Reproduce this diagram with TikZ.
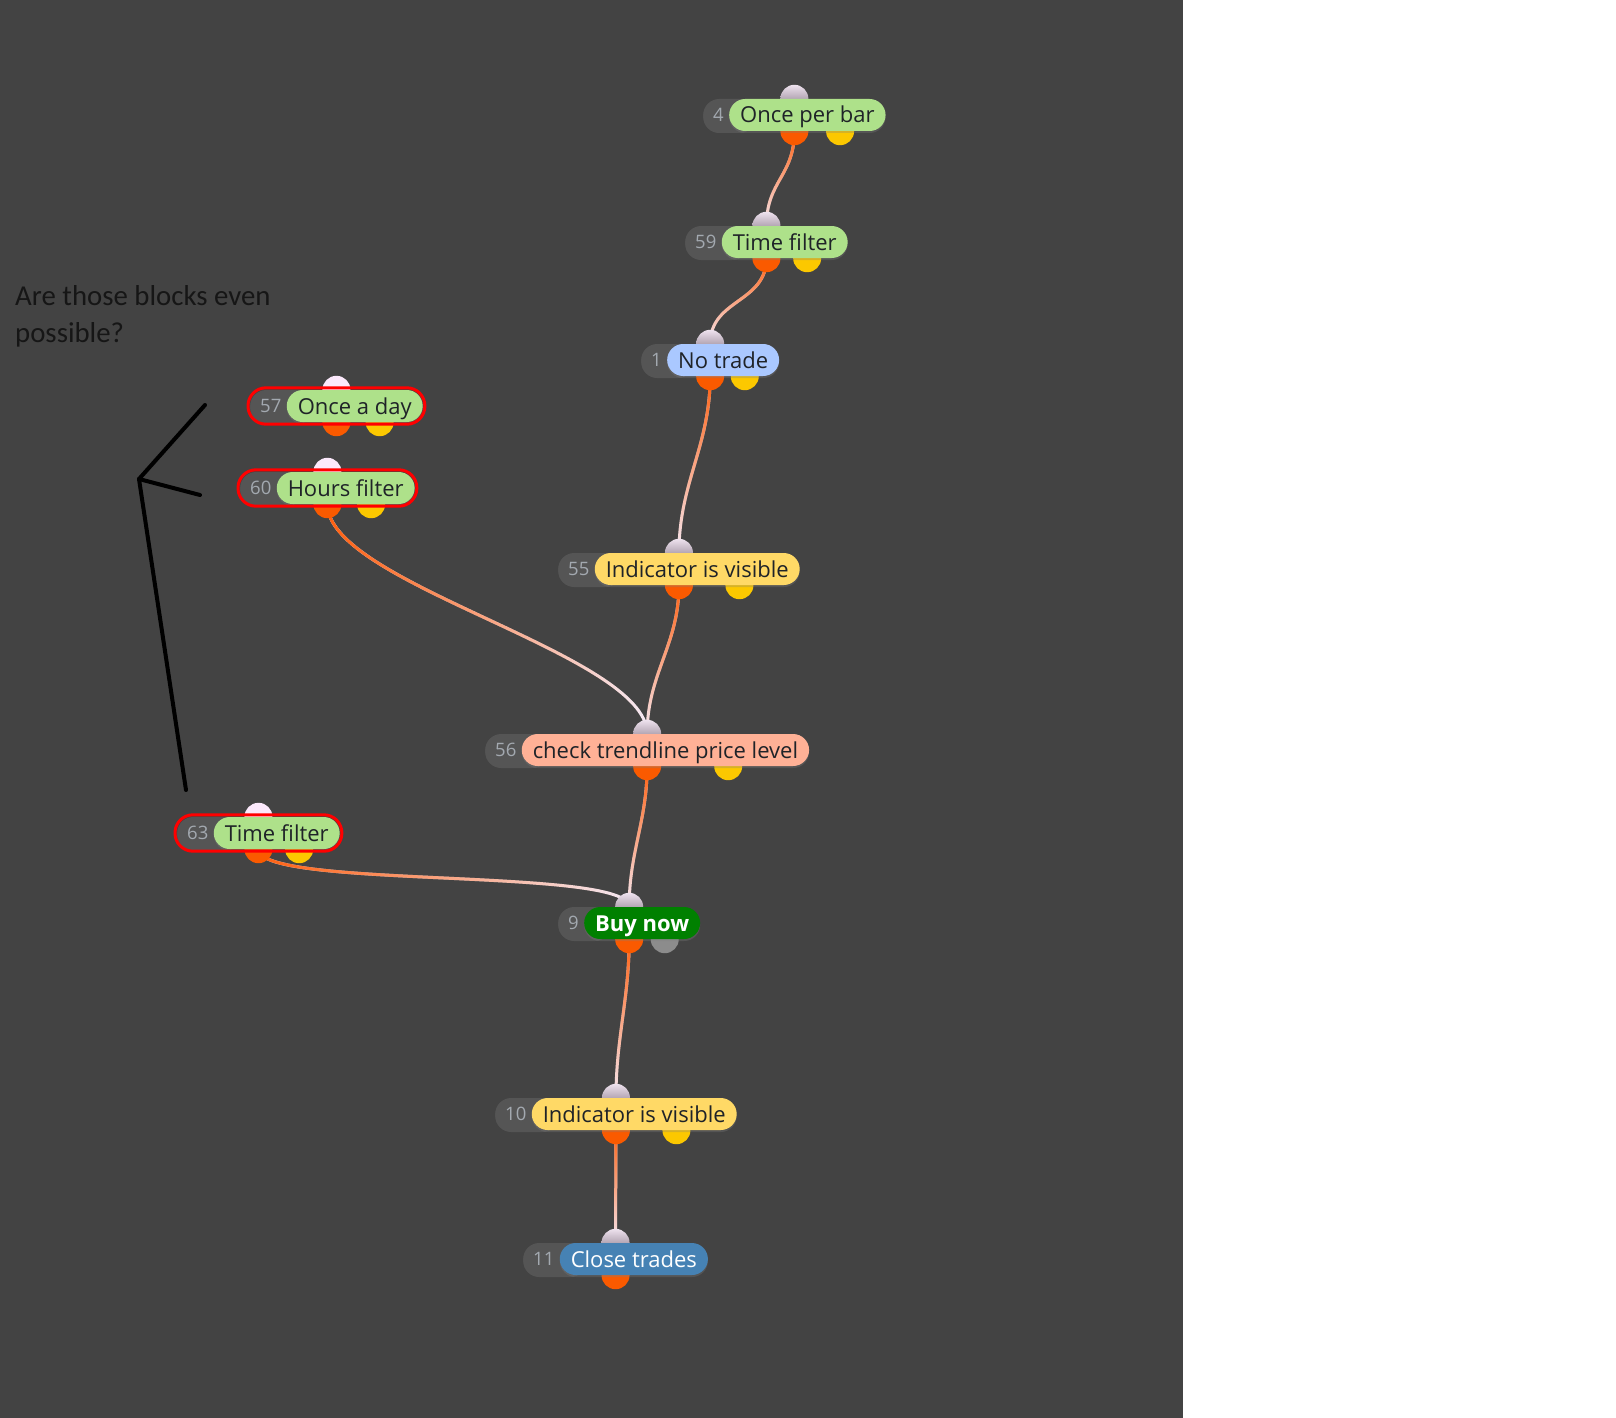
\documentclass[tikz,border=0pt]{standalone}
\usepackage{fontspec}
\setmainfont{Open Sans}
\newfontfamily\notefont{Carlito}
\usetikzlibrary{positioning, calc, fit, shadows, fadings}

\definecolor{canvas}{HTML}{434343}
\definecolor{idgrey}{HTML}{555555}
\definecolor{idtext}{HTML}{A3A9B0}
\definecolor{pilltext}{HTML}{1F2328}
\definecolor{pillgreen}{HTML}{AEE18A}
\definecolor{pillblue}{HTML}{AAC8FF}
\definecolor{pillyellow}{HTML}{FFD966}
\definecolor{pillsalmon}{HTML}{FFB196}
\definecolor{buygreen}{HTML}{008000}
\definecolor{closeblue}{HTML}{4682B4}
\definecolor{ringred}{HTML}{FF0000}
\definecolor{knoborange}{HTML}{FA5A00}
\definecolor{knobyellow}{HTML}{FCC800}
\definecolor{knobgrey}{HTML}{8C8C8C}
\definecolor{knobpink}{HTML}{FCE9FC}
\definecolor{lilactop}{HTML}{EEE2EE}
\definecolor{lilacbot}{HTML}{7A6A7A}
\definecolor{wirepale}{HTML}{F5EAF5}
\definecolor{wireorange}{HTML}{FF6010}
\definecolor{notetext}{HTML}{161616}

\tikzfading[name=wirefade south, top color=transparent!0, middle color=transparent!25,
  bottom color=transparent!100]
\tikzfading[name=wirefade east, left color=transparent!0, middle color=transparent!25,
  right color=transparent!100]

\pgfdeclarelayer{bg}
\pgfdeclarelayer{wires}
\pgfdeclarelayer{knobs}
\pgfsetlayers{bg,wires,knobs,main}

\tikzset{
  pill/.style={rounded corners=16pt, minimum height=32pt, inner xsep=11pt, inner ysep=0pt,
    text height=16pt, text depth=0pt, text=pilltext, font=\fontsize{22}{26}\selectfont,
    drop shadow={shadow xshift=0pt, shadow yshift=-2pt, opacity=.3}},
  idpill/.style={fill=idgrey, rounded corners=16pt, minimum height=32pt, inner xsep=10pt,
    inner ysep=0pt, text height=13pt, text depth=0pt, text=idtext, anchor=west,
    font=\fontsize{18.5}{22}\selectfont,
    drop shadow={shadow xshift=0pt, shadow yshift=-2pt, opacity=.3}},
  knob/.style={circle, minimum size=28pt, inner sep=0pt},
  knobin/.style={knob, top color=lilactop, bottom color=lilacbot},
  knobpk/.style={knob, fill=knobpink},
  knobout/.style={knob, fill=knoborange},
  knobyel/.style={knob, fill=knobyellow},
  knobgry/.style={knob, fill=knobgrey},
  knobnone/.style={knob},
  ring/.style={draw=ringred, line width=3pt, rounded corners=18pt, inner sep=2pt},
  wire/.style={draw=wirepale, line width=3pt,
    postaction={draw=wireorange, line width=3pt, path fading=wirefade south}},
  wireside/.style={draw=wirepale, line width=3pt,
    postaction={draw=wireorange, line width=3pt, path fading=wirefade east}},
  pen/.style={draw=black, line width=4pt, line cap=round, line join=round},
}

\begin{document}
\begin{tikzpicture}[x=1pt, y=-1pt]

\useasboundingbox (0,0) rectangle (1616,1418);
\begin{pgfonlayer}{bg}
  \fill[white] (0,0) rectangle (1616,1418);
  \fill[canvas] (0,0) rectangle (1183,1418);
\end{pgfonlayer}

% question and hand drawn arrow
\node[anchor=base west, align=left, inner sep=0pt, text=notetext,
  font=\notefont\fontsize{28.8}{37}\selectfont] (note) at (15,342)
  {Are those blocks even\\possible?};
\coordinate (tip) at (139,479);
\draw[pen] (205,405) -- (tip) -- (200,495);
\draw[pen] (tip) -- (186,790);

% main chain
\node[idpill] (b4-id) at (703,115) {4\hspace*{22pt}};
\node[pill, fill=pillgreen, right=-27pt of b4-id] (b4) {Once per bar};

\node[idpill] (b59-id) at (685,242) {59\hspace*{22pt}};
\node[pill, fill=pillgreen, right=-27pt of b59-id] (b59) {Time filter};

\node[idpill] (b1-id) at (641,360) {1\hspace*{22pt}};
\node[pill, fill=pillblue, right=-27pt of b1-id] (b1) {No trade};

\node[idpill] (b55-id) at (558,569) {55\hspace*{22pt}};
\node[pill, fill=pillyellow, right=-27pt of b55-id] (b55) {Indicator is visible};

\node[idpill] (b56-id) at (485,750) {56\hspace*{22pt}};
\node[pill, fill=pillsalmon, right=-27pt of b56-id] (b56) {check trendline price level};

\node[idpill] (b9-id) at (558,923) {9\hspace*{22pt}};
\node[pill, fill=buygreen, text=white, font=\fontsize{22}{26}\selectfont\bfseries,
  right=-27pt of b9-id] (b9) {Buy now};

\node[idpill] (b10-id) at (495,1114) {10\hspace*{22pt}};
\node[pill, fill=pillyellow, right=-27pt of b10-id] (b10) {Indicator is visible};

\node[idpill] (b11-id) at (523,1259) {11\hspace*{22pt}};
\node[pill, fill=closeblue, text=white, right=-27pt of b11-id] (b11) {Close trades};

% loose blocks
\node[idpill] (b57-id) at (250,406) {57\hspace*{22pt}};
\node[pill, fill=pillgreen, right=-27pt of b57-id] (b57) {Once a day};

\node[idpill] (b60-id) at (240,488) {60\hspace*{22pt}};
\node[pill, fill=pillgreen, right=-27pt of b60-id] (b60) {Hours filter};

\node[idpill] (b63-id) at (177,833) {63\hspace*{22pt}};
\node[pill, fill=pillgreen, right=-27pt of b63-id] (b63) {Time filter};

% in and out knobs
\begin{pgfonlayer}{knobs}
\foreach \nd/\ki/\ky in {b4/knobin/knobyel, b59/knobin/knobyel, b1/knobin/knobyel,
    b55/knobin/knobyel, b56/knobin/knobyel, b9/knobin/knobgry, b10/knobin/knobyel,
    b11/knobin/knobnone, b57/knobpk/knobyel, b60/knobpk/knobyel, b63/knobpk/knobyel}{
  \coordinate (\nd-mid) at ($(\nd-id.west)!.5!(\nd.east)$);
  \coordinate (\nd-qtr) at ($(\nd-id.west)!.75!(\nd.east)$);
  \node[\ky] (\nd-y) at (\nd-qtr |- \nd.south) {};
  \node[knobout] (\nd-out) at (\nd-mid |- \nd.south) {};
  \node[\ki] (\nd-in) at (\nd-mid |- \nd.north) {};
}
\end{pgfonlayer}

% wires
\begin{pgfonlayer}{wires}
\draw[wire] (b4-out.center) .. controls +(0,45) and +(0,-45) .. (b59-in.center);
\draw[wire] (b59-out.center) .. controls +(0,45) and +(0,-45) .. (b1-in.center);
\draw[wire] (b1-out.center) .. controls +(0,70) and +(0,-70) .. (b55-in.center);
\draw[wire] (b55-out.center) .. controls +(0,60) and +(0,-60) .. (b56-in.center);
\draw[wireside] (b60-out.center) .. controls +(0,80) and +(0,-80) .. (b56-in.center);
\draw[wire] (b56-out.center) .. controls +(0,55) and +(0,-55) .. (b9-in.center);
\draw[wireside] (b63-out.center) .. controls +(0,40) and +(0,-40) .. (b9-in.center);
\draw[wire] (b9-out.center) .. controls +(0,60) and +(0,-60) .. (b10-in.center);
\draw[wire] (b10-out.center) .. controls +(0,45) and +(0,-45) .. (b11-in.center);
\end{pgfonlayer}

% red rings
\node[ring, fit=(b57-id)(b57)] (b57-ring) {};
\node[ring, fit=(b60-id)(b60)] (b60-ring) {};
\node[ring, fit=(b63-id)(b63)] (b63-ring) {};

\end{tikzpicture}
\end{document}
